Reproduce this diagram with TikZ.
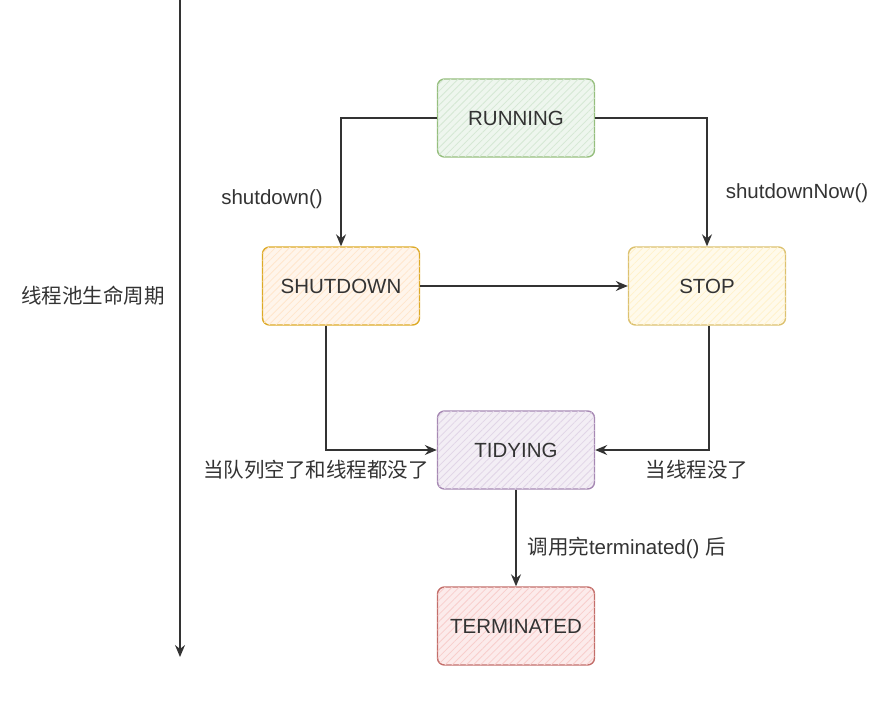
\documentclass[tikz,border=0pt]{standalone}
\usepackage{fontspec}
\setmainfont{Liberation Sans}
\newfontfamily\cjk{Noto Sans CJK SC}
\usetikzlibrary{arrows.meta,patterns.meta}
\definecolor{ink}{HTML}{333333}
\definecolor{gS}{HTML}{82B366}\definecolor{gF}{HTML}{D5E8D4}
\definecolor{oS}{HTML}{D79B00}\definecolor{oF}{HTML}{FFE6CC}
\definecolor{yS}{HTML}{D6B656}\definecolor{yF}{HTML}{FFF2CC}
\definecolor{pS}{HTML}{9673A6}\definecolor{pF}{HTML}{E1D5E7}
\definecolor{rS}{HTML}{B85450}\definecolor{rF}{HTML}{F8CECC}
\tikzset{
  state/.style 2 args={draw=#1!85!white, line width=1.4pt, rounded corners=7pt,
    minimum width=157pt, minimum height=78pt, text=ink,
    font=\fontsize{20.5}{24}\selectfont,
    preaction={fill=#2!40!white},
    postaction={pattern={Lines[angle=45,distance=5pt,line width=0.8pt]}, pattern color=#2}},
  conn/.style={draw=ink, line width=1.3pt, -{Stealth[length=12pt,width=10pt,inset=4pt]}},
  lbl/.style={text=ink, font=\fontsize{20.5}{24}\selectfont},
  clbl/.style={text=ink, font=\cjk\fontsize{20.5}{24}\selectfont},
}
\begin{document}
\begin{tikzpicture}[x=1pt,y=-1pt]
\useasboundingbox (0,0) rectangle (896,714);
\node[state={gS}{gF}] (run) at (516,118) {RUNNING};
\node[state={oS}{oF}] (shut) at (341,286) {SHUTDOWN};
\node[state={yS}{yF}] (stop) at (707,286) {STOP};
\node[state={pS}{pF}] (tidy) at (516,450) {TIDYING};
\node[state={rS}{rF}] (term) at (516,626) {TERMINATED};
\coordinate (t0) at (180,0);
\coordinate (t1) at (180,657);
\draw[conn] (t0) -- (t1);
\node[clbl] at (93,296) {线程池生命周期};
\draw[conn] (run.west) -| (shut.north);
\draw[conn] (run.east) -| (stop.north);
\draw[conn] (shut.east) -- (stop.west);
\draw[conn] ([xshift=-15pt]shut.south) |- (tidy.west);
\draw[conn] ([xshift=2pt]stop.south) |- (tidy.east);
\draw[conn] (tidy.south) -- (term.north);
\node[lbl] at (272,199) {shutdown()};
\node[lbl] at (797,193) {shutdownNow()};
\node[clbl] at (316,470) {当队列空了和线程都没了};
\node[clbl] at (697,470) {当线程没了};
\node[lbl, anchor=west] at (524,548) {{\cjk 调用完}terminated() {\cjk 后}};
\end{tikzpicture}
\end{document}
